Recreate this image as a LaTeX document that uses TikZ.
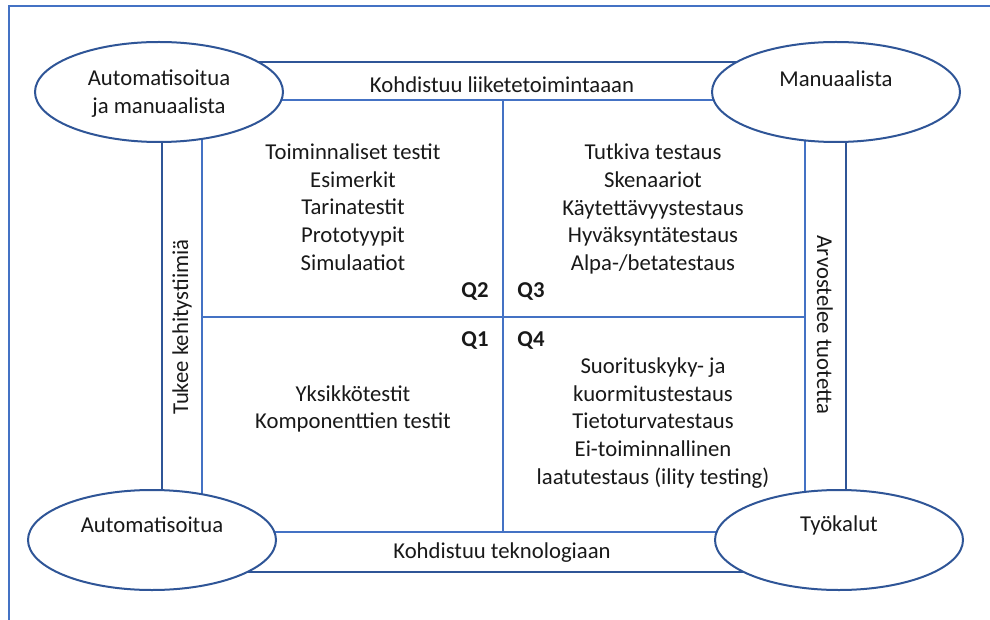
\documentclass[tikz,border=0pt]{standalone}
\usepackage{fontspec}
\setmainfont{Carlito}
\usetikzlibrary{shapes.geometric}
\definecolor{lb}{HTML}{4472C4}
\definecolor{db}{HTML}{2F5597}
\begin{document}
\begin{tikzpicture}[x=1pt,y=-1pt,
  lbl/.style={inner sep=0pt, font=\fontsize{22.7}{27.7}\selectfont, align=center, text=black!90},
  qlbl/.style={inner sep=0pt, font=\fontsize{22.7}{27.7}\selectfont\bfseries, text=black!90},
  ell/.style={ellipse, draw=db, line width=2pt, fill=white, minimum width=248pt, minimum height=100pt, inner sep=0pt},
  outerline/.style={db, line width=2pt},
  innerline/.style={lb, line width=2pt}]
\useasboundingbox (0,0) rectangle (990,620);
\fill[white] (0,0) rectangle (990,620);
\draw[lb, line width=1.5pt] (9,620) -- (9,6) -- (990,6);
% outer band
\coordinate (o1) at (162,62);
\coordinate (o2) at (846,572);
\draw[outerline] (o1) rectangle (o2);
% inner square
\coordinate (i1) at (202,100);
\coordinate (i2) at (805,532);
\draw[innerline] (i1) rectangle (i2);
\coordinate (vt) at (503,100);
\coordinate (vb) at (503,532);
\coordinate (hl) at (202,317);
\coordinate (hr) at (805,317);
\draw[innerline] (vt) -- (vb);
\draw[innerline] (hl) -- (hr);
% ellipses
\node[ell] (tl) at (159,92) {};
\node[ell] (tr) at (836,92) {};
\node[ell] (bl) at (152,540) {};
\node[ell] (br) at (839,540) {};
\node[lbl] (tlt) at (159,93.5) {Automatisoitua\\ja manuaalista};
\node[lbl] (trt) at (836,79) {Manuaalista};
\node[lbl] (blt) at (152,525) {Automatisoitua};
\node[lbl] (brt) at (839,525) {Työkalut};
% band labels
\node[lbl] (top) at (502,85) {Kohdistuu liiketetoimintaaan};
\node[lbl] (bot) at (502,553) {Kohdistuu teknologiaan};
\node[lbl, rotate=90] (left) at (182,327) {Tukee kehitystiimiä};
\node[lbl, rotate=-90] (right) at (825,325) {Arvostelee tuotetta};
% quadrant texts
\node[lbl] (q2t) at (353,207) {Toiminnaliset testit\\Esimerkit\\Tarinatestit\\Prototyypit\\Simulaatiot};
\node[lbl] (q3t) at (653,209) {Tutkiva testaus\\Skenaariot\\Käytettävyystestaus\\Hyväksyntätestaus\\Alpa-/betatestaus};
\node[lbl] (q1t) at (353,409) {Yksikkötestit\\Komponenttien testit};
\node[lbl] (q4t) at (653,423) {Suorituskyky- ja\\kuormitustestaus\\Tietoturvatestaus\\Ei-toiminnallinen\\laatutestaus (ility testing)};
\node[qlbl] (q2) at (475,291) {Q2};
\node[qlbl] (q3) at (531,291) {Q3};
\node[qlbl] (q1) at (475,340) {Q1};
\node[qlbl] (q4) at (531,340) {Q4};
\end{tikzpicture}
\end{document}
